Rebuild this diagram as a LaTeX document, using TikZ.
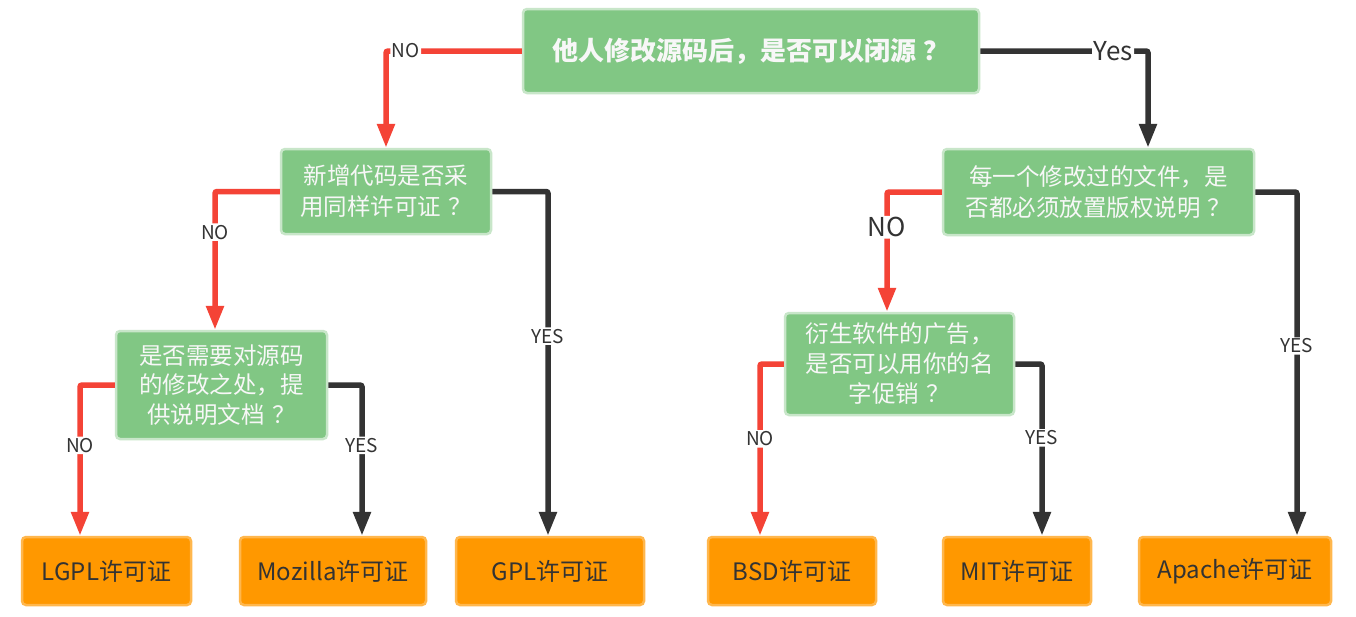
\documentclass[tikz,border=0pt]{standalone}
\usepackage{fontspec}
\setmainfont{Noto Sans CJK SC}
\usetikzlibrary{arrows.meta}
\definecolor{gfill}{HTML}{81C784}
\definecolor{gborder}{HTML}{C8E6C9}
\definecolor{ofill}{HTML}{FF9800}
\definecolor{oborder}{HTML}{FFB74D}
\definecolor{redl}{HTML}{F44336}
\definecolor{darkl}{HTML}{333333}
\definecolor{qtext}{HTML}{F7F7F7}
\newcommand{\qm}{\hspace{0.3em}？}
\begin{document}
\begin{tikzpicture}[x=1pt,y=-1pt,
  qbox/.style={draw=gborder, fill=gfill, line width=2.5pt, rounded corners=4pt, text=qtext, align=center, inner sep=0pt, font=\fontsize{23.5}{31}\selectfont},
  leaf/.style={draw=oborder, fill=ofill, line width=2.5pt, rounded corners=4pt, text=darkl, inner sep=0pt, minimum height=68pt, font=\fontsize{24}{28}\selectfont},
  conn/.style={line width=5.5pt, rounded corners=2pt, -{Triangle[width=17pt,length=24pt]}},
  noline/.style={conn, draw=redl},
  yesline/.style={conn, draw=darkl},
  lbl/.style={fill=white, text=darkl, inner sep=1.5pt, font=\fontsize{19}{19}\selectfont},
  biglbl/.style={lbl, font=\fontsize{26}{26}\selectfont}
]
\useasboundingbox (0,0) rectangle (1356,616);
\fill[white] (0,0) rectangle (1356,616);

\node[qbox, minimum width=456pt, minimum height=84pt, font=\fontsize{26}{30}\selectfont\bfseries] (root) at (751,51) {他人修改源码后，是否可以闭源\qm};
\node[qbox, minimum width=210pt, minimum height=85pt] (n1) at (386,191.5) {新增代码是否采\\用同样许可证\qm};
\node[qbox, minimum width=311pt, minimum height=86pt] (n2) at (1098.5,192) {每一个修改过的文件，是\\否都必须放置版权说明\qm};
\node[qbox, minimum width=211pt, minimum height=108pt, font=\fontsize{23.5}{29.5}\selectfont] (n3) at (221.5,385) {是否需要对源码\\的修改之处，提\\供说明文档\qm};
\node[qbox, minimum width=229pt, minimum height=102pt, font=\fontsize{23.5}{30}\selectfont] (n4) at (899.5,364) {衍生软件的广告，\\是否可以用你的名\\字促销\qm};

\node[leaf, minimum width=169pt] (lgpl) at (106.5,571) {LGPL许可证};
\node[leaf, minimum width=186pt] (moz) at (333,571) {Mozilla许可证};
\node[leaf, minimum width=188pt] (gpl) at (550,571) {GPL许可证};
\node[leaf, minimum width=168pt] (bsd) at (792,571) {BSD许可证};
\node[leaf, minimum width=148pt] (mit) at (1017,571) {MIT许可证};
\node[leaf, minimum width=192pt] (apache) at (1235,571) {Apache许可证};

\draw[noline] (root.west) -| node[lbl, pos=0.427] {NO} (n1.north);
\draw[yesline] (root.east) -| node[biglbl, pos=0.396] {Yes} ([xshift=49.5pt]n2.north);
\draw[noline] (n1.west) -| node[lbl, pos=0.647] {NO} ([xshift=-6.5pt]n3.north);
\draw[yesline] (n1.east) -| node[lbl, pos=0.71] {YES} ([xshift=-2pt]gpl.north);
\draw[noline] (n2.west) -| node[biglbl, pos=0.647] {NO} ([xshift=-12.5pt]n4.north);
\draw[yesline] (n2.east) -| node[lbl, pos=0.724] {YES} ([xshift=62pt]apache.north);
\draw[noline] (n3.west) -| node[lbl, pos=0.70] {NO} ([xshift=-26.5pt]lgpl.north);
\draw[yesline] (n3.east) -| node[lbl, pos=0.70] {YES} ([xshift=29pt]moz.north);
\draw[noline] (n4.west) -| node[lbl, pos=0.718] {NO} ([xshift=-32pt]bsd.north);
\draw[yesline] (n4.east) -| node[lbl, pos=0.715] {YES} ([xshift=25pt]mit.north);
\end{tikzpicture}
\end{document}
